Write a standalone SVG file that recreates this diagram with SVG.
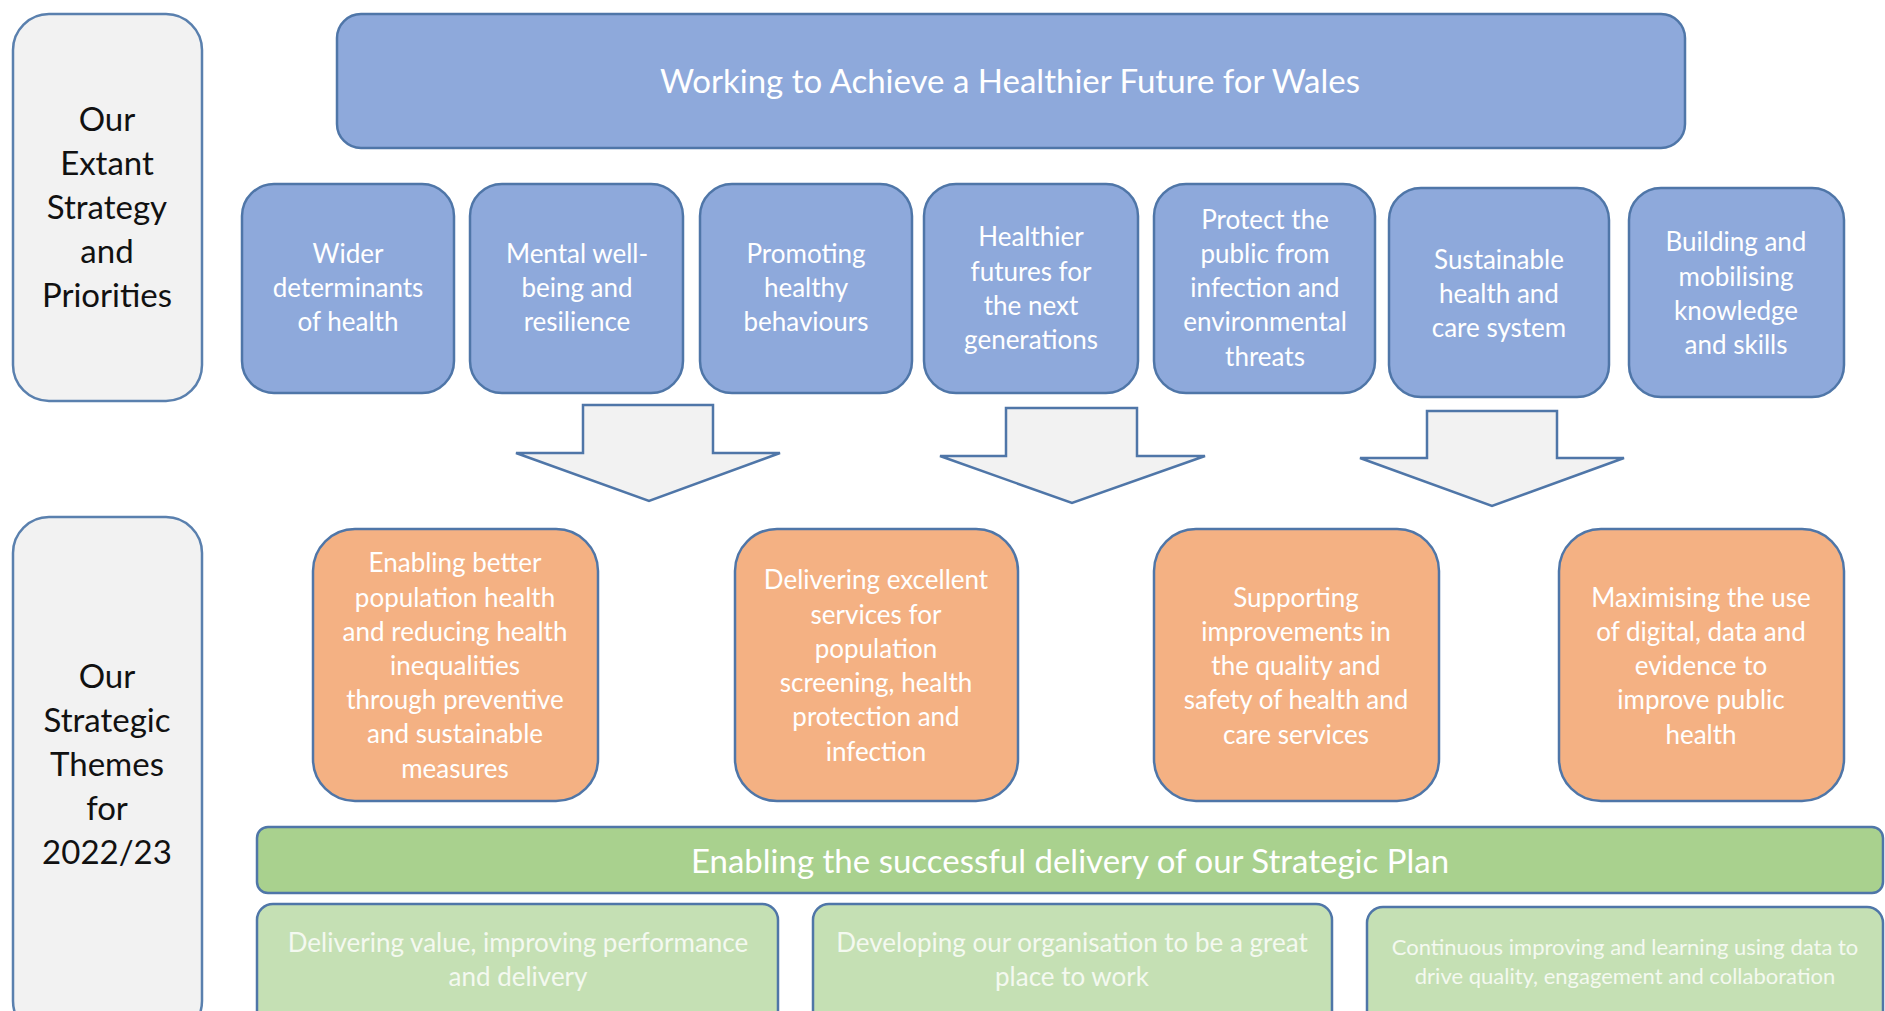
<svg xmlns="http://www.w3.org/2000/svg" width="1885" height="1011" viewBox="0 0 1885 1011">
<style>
.side{fill:#F2F2F2;stroke:#5A80AE;stroke-width:2.5}
.blue{fill:#8EA9DB;stroke:#4F76A8;stroke-width:2.5}
.orange{fill:#F4B183;stroke:#4F76A8;stroke-width:2.5}
.green{fill:#A9D18E;stroke:#4F76A8;stroke-width:2.5}
.lgreen{fill:#C5E0B4;stroke:#4F76A8;stroke-width:2.5}
.arrow{fill:#F2F2F2;stroke:#4F76A8;stroke-width:2.5;stroke-linejoin:miter}
text{font-family:Lato,"Liberation Sans",sans-serif;text-anchor:middle}
.dark{fill:#111111;font-size:33px}
.wt{fill:#FFFFFF;font-size:26px}
.lt{fill:#F4F9F0;font-size:26px}
</style>
<rect width="1885" height="1011" fill="#FFFFFF"/>

<g id="side-extant">
<rect class="side" x="13" y="14" width="189" height="387" rx="36"/>
<text class="dark"><tspan x="107" y="131">Our</tspan><tspan x="107" y="175">Extant</tspan><tspan x="107" y="219">Strategy</tspan><tspan x="107" y="263">and</tspan><tspan x="107" y="307">Priorities</tspan></text>
</g>

<g id="side-themes">
<rect class="side" x="13" y="517" width="189" height="520" rx="36"/>
<text class="dark"><tspan x="107" y="688">Our</tspan><tspan x="107" y="732">Strategic</tspan><tspan x="107" y="776">Themes</tspan><tspan x="107" y="820">for</tspan><tspan x="107" y="864">2022/23</tspan></text>
</g>

<g id="banner">
<rect class="blue" x="337" y="14" width="1348" height="134" rx="24"/>
<text style="fill:#FFFFFF;font-size:33px" x="1010" y="93">Working to Achieve a Healthier Future for Wales</text>
</g>

<g id="p1">
<rect class="blue" x="242" y="184" width="212" height="209" rx="32"/>
<text class="wt"><tspan x="348" y="263">Wider</tspan><tspan x="348" y="297">determinants</tspan><tspan x="348" y="331">of health</tspan></text>
</g>
<g id="p2">
<rect class="blue" x="470" y="184" width="213" height="209" rx="32"/>
<text class="wt"><tspan x="577" y="263">Mental well-</tspan><tspan x="577" y="297">being and</tspan><tspan x="577" y="331">resilience</tspan></text>
</g>
<g id="p3">
<rect class="blue" x="700" y="184" width="212" height="209" rx="32"/>
<text class="wt"><tspan x="806" y="263">Promoting</tspan><tspan x="806" y="297">healthy</tspan><tspan x="806" y="331">behaviours</tspan></text>
</g>
<g id="p4">
<rect class="blue" x="924" y="184" width="214" height="209" rx="32"/>
<text class="wt"><tspan x="1031" y="246">Healthier</tspan><tspan x="1031" y="281">futures for</tspan><tspan x="1031" y="315">the next</tspan><tspan x="1031" y="349">generations</tspan></text>
</g>
<g id="p5">
<rect class="blue" x="1154" y="184" width="221" height="209" rx="32"/>
<text class="wt"><tspan x="1265" y="229">Protect the</tspan><tspan x="1265" y="263">public from</tspan><tspan x="1265" y="297">infection and</tspan><tspan x="1265" y="331">environmental</tspan><tspan x="1265" y="366">threats</tspan></text>
</g>
<g id="p6">
<rect class="blue" x="1389" y="188" width="220" height="209" rx="32"/>
<text class="wt"><tspan x="1499" y="269">Sustainable</tspan><tspan x="1499" y="303">health and</tspan><tspan x="1499" y="337">care system</tspan></text>
</g>
<g id="p7">
<rect class="blue" x="1629" y="188" width="215" height="209" rx="32"/>
<text class="wt"><tspan x="1736" y="251">Building and</tspan><tspan x="1736" y="286">mobilising</tspan><tspan x="1736" y="320">knowledge</tspan><tspan x="1736" y="354">and skills</tspan></text>
</g>

<g id="connectors">
<polygon class="arrow" points="583,405 713,405 713,453 780,453 649,501 516,453 583,453"/>
<polygon class="arrow" points="1006,408 1137,408 1137,456 1205,456 1072,503 940,456 1006,456"/>
<polygon class="arrow" points="1427,411 1557,411 1557,458 1624,458 1492,506 1360,458 1427,458"/>
</g>

<g id="t1">
<rect class="orange" x="313" y="529" width="285" height="272" rx="42"/>
<text class="wt"><tspan x="455" y="572">Enabling better</tspan><tspan x="455" y="607">population health</tspan><tspan x="455" y="641">and reducing health</tspan><tspan x="455" y="675">inequalities</tspan><tspan x="455" y="709">through preventive</tspan><tspan x="455" y="743">and sustainable</tspan><tspan x="455" y="778">measures</tspan></text>
</g>
<g id="t2">
<rect class="orange" x="735" y="529" width="283" height="272" rx="42"/>
<text class="wt"><tspan x="876" y="589">Delivering excellent</tspan><tspan x="876" y="624">services for</tspan><tspan x="876" y="658">population</tspan><tspan x="876" y="692">screening, health</tspan><tspan x="876" y="726">protection and</tspan><tspan x="876" y="761">infection</tspan></text>
</g>
<g id="t3">
<rect class="orange" x="1154" y="529" width="285" height="272" rx="42"/>
<text class="wt"><tspan x="1296" y="607">Supporting</tspan><tspan x="1296" y="641">improvements in</tspan><tspan x="1296" y="675">the quality and</tspan><tspan x="1296" y="709">safety of health and</tspan><tspan x="1296" y="744">care services</tspan></text>
</g>
<g id="t4">
<rect class="orange" x="1559" y="529" width="285" height="272" rx="42"/>
<text class="wt"><tspan x="1701" y="607">Maximising the use</tspan><tspan x="1701" y="641">of digital, data and</tspan><tspan x="1701" y="675">evidence to</tspan><tspan x="1701" y="709">improve public</tspan><tspan x="1701" y="744">health</tspan></text>
</g>

<g id="enabling">
<rect class="green" x="257" y="827" width="1626" height="66" rx="11"/>
<text style="fill:#FFFFFF;font-size:33px" x="1070" y="873">Enabling the successful delivery of our Strategic Plan</text>
</g>
<g id="e1">
<rect class="lgreen" x="257" y="904" width="521" height="130" rx="16"/>
<text class="lt"><tspan x="518" y="952">Delivering value, improving performance</tspan><tspan x="518" y="986">and delivery</tspan></text>
</g>
<g id="e2">
<rect class="lgreen" x="813" y="904" width="519" height="130" rx="16"/>
<text class="lt"><tspan x="1072" y="952">Developing our organisation to be a great</tspan><tspan x="1072" y="986">place to work</tspan></text>
</g>
<g id="e3">
<rect class="lgreen" x="1367" y="907" width="516" height="130" rx="16"/>
<text class="lt" style="font-size:22px"><tspan x="1625" y="955">Continuous improving and learning using data to</tspan><tspan x="1625" y="984">drive quality, engagement and collaboration</tspan></text>
</g>
</svg>
